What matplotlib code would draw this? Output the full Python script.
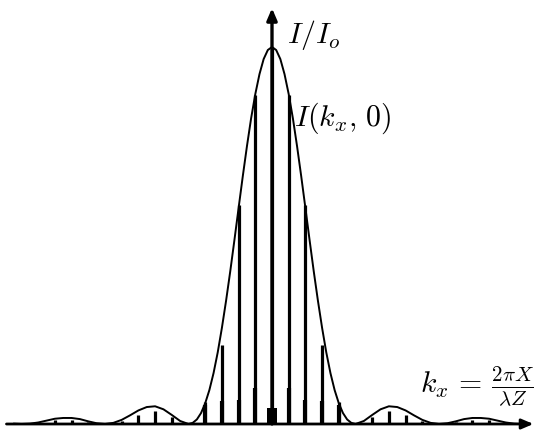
import numpy as np
import matplotlib
matplotlib.use("Agg")
import matplotlib.pyplot as plt

plt.rcParams['mathtext.fontset'] = 'cm'

# Envelope I(k_x,0) (half, u >= 0; mirrored), u in units of order spacing
env_u = [0, 0.25, 0.5, 0.75, 1.0, 1.25, 1.5, 1.75, 2.0, 2.25, 2.5, 2.75, 3.0, 3.25, 3.5,
         3.75, 4.0, 4.25, 4.5, 4.75, 5.0, 5.5, 6.0, 6.5, 7.0, 7.5, 8.0, 8.5, 9.0, 9.5,
         10.0, 10.5, 11.0, 11.5, 12.0, 12.5, 13.0, 13.5, 14.0, 14.5, 15.0, 15.5, 16.0]
env_h = [1.0, 0.992, 0.968, 0.928, 0.875, 0.811, 0.737, 0.657, 0.573, 0.488, 0.405,
         0.327, 0.255, 0.190, 0.135, 0.090, 0.055, 0.029, 0.012, 0.003, 0.0, 0.008,
         0.024, 0.039, 0.047, 0.045, 0.036, 0.023, 0.011, 0.003, 0.0, 0.002, 0.007,
         0.013, 0.016, 0.016, 0.014, 0.009, 0.004, 0.001, 0.0, 0.001, 0.003]

# Principal maxima (spikes): order and height
spike_order = [-13, -12, -11, -9, -8, -7, -6, -4, -3, -2, -1, 0, 1, 2, 3, 4, 6, 7, 8, 9, 11, 12, 13]
spike_h = [0.010, 0.011, 0.005, 0.008, 0.024, 0.034, 0.019, 0.058, 0.21, 0.58, 0.873, 1.0,
           0.873, 0.58, 0.21, 0.058, 0.019, 0.034, 0.024, 0.008, 0.005, 0.011, 0.010]

# Lower broadened parts (subsidiary maxima) of the spikes
shoulder_order = [-4, -3, -2, -1, 1, 2, 3, 4]
shoulder_h = [0.05, 0.06, 0.064, 0.095, 0.095, 0.064, 0.06, 0.05]
center_block_h = 0.042

PX_U = 16.7   # pixels per order
PX_Y = 377.0  # pixels per unit intensity
X0, Y0 = 272, 424

fig = plt.figure(figsize=(5.35, 4.32), dpi=100)
ax = fig.add_axes([0, 0, 1, 1])
ax.set_xlim(-X0 / PX_U, (535 - X0) / PX_U)
ax.set_ylim(-(432 - Y0) / PX_Y, Y0 / PX_Y)
ax.axis('off')

eu = np.array(env_u)
eh = np.array(env_h)
full_u = np.concatenate([-eu[::-1], eu[1:]])
full_h = np.concatenate([eh[::-1], eh[1:]])
m = (full_u >= -15.9) & (full_u <= 15.6)
ax.plot(full_u[m], full_h[m], color='black', lw=1.4, solid_capstyle='butt')

ax.vlines(spike_order, 0, spike_h, color='black', lw=2.3)
ax.vlines(shoulder_order, 0, shoulder_h, color='black', lw=3.0)
ax.bar([0], [center_block_h], width=0.55, color='black')

# axes with arrows
ax.annotate('', xy=(15.65, 0), xytext=(-15.9, 0),
            arrowprops=dict(arrowstyle='-|>,head_length=0.7,head_width=0.3',
                            lw=2.0, color='black', shrinkA=0, shrinkB=0))
ax.annotate('', xy=(0, 1.103), xytext=(0, 0),
            arrowprops=dict(arrowstyle='-|>,head_length=0.7,head_width=0.3',
                            lw=2.4, color='black', shrinkA=0, shrinkB=0))

ax.text(287 / 535, 1 - 43 / 432, r'$I/I_o$', transform=ax.transAxes,
        fontsize=21.5, ha='left', va='baseline')
ax.text(294 / 535, 1 - 126 / 432, r'$I(k_x,\,0)$', transform=ax.transAxes,
        fontsize=21.5, ha='left', va='baseline')
ax.text(420 / 535, 1 - 393 / 432, r'$k_x\,=\,\frac{2\pi X}{\lambda Z}$', transform=ax.transAxes,
        fontsize=21.5, ha='left', va='baseline')

fig.savefig('out.png', dpi=100)
